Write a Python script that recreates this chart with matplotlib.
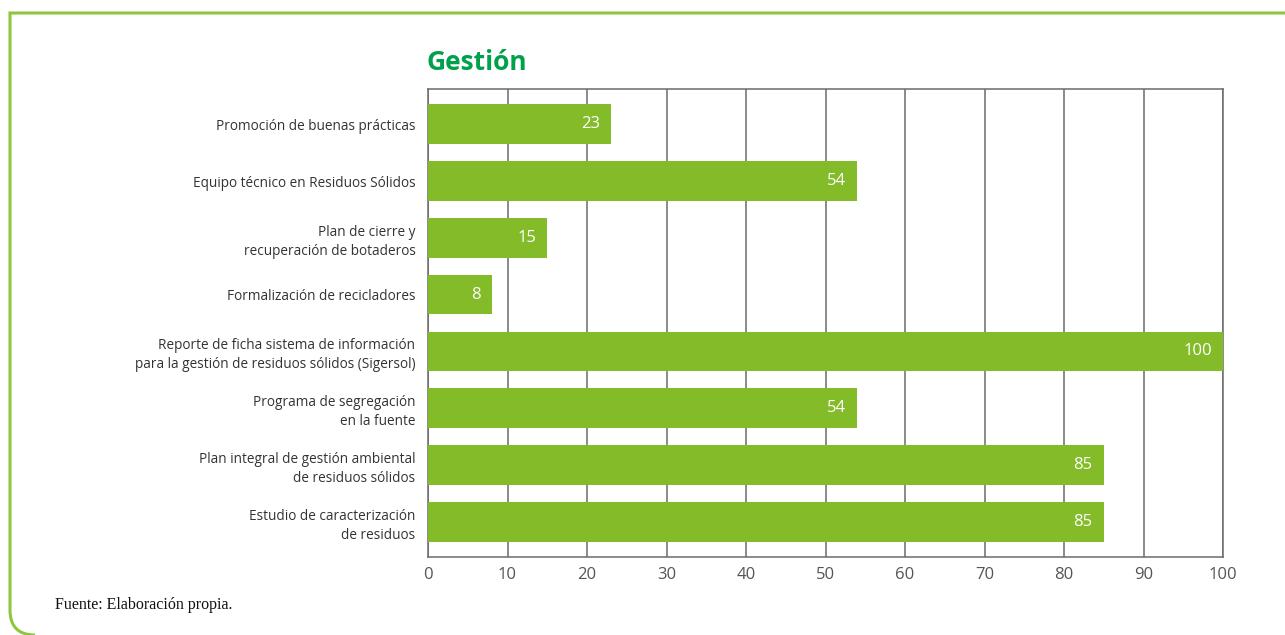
import matplotlib
matplotlib.use("Agg")
import matplotlib.pyplot as plt
from matplotlib.path import Path
from matplotlib.patches import PathPatch

categories = [
    "Promoción de buenas prácticas",
    "Equipo técnico en Residuos Sólidos",
    "Plan de cierre y\nrecuperación de botaderos",
    "Formalización de recicladores",
    "Reporte de ficha sistema de información\npara la gestión de residuos sólidos (Sigersol)",
    "Programa de segregación\nen la fuente",
    "Plan integral de gestión ambiental\nde residuos sólidos",
    "Estudio de caracterización\nde residuos",
]
values = [23, 54, 15, 8, 100, 54, 85, 85]
xticks = list(range(0, 101, 10))

BAR = "#84BB29"
TITLE = "#00A14B"
FRAME = "#8DC63F"
GRID = "#6b6b6b"
TXT = "#333333"

plt.rcParams["font.family"] = ["Open Sans", "DejaVu Sans"]

W, H = 1285, 635
fig = plt.figure(figsize=(W / 100, H / 100), dpi=100)
ax = fig.add_axes([428 / W, 1 - 557 / H, 795 / W, 468 / H])

y = list(range(len(categories)))
ax.barh(y, values, height=0.7, color=BAR, zorder=3)
for yi, v in zip(y, values):
    ax.text(v - 1.4, yi, str(v), color="white", ha="right", va="center",
            fontsize=12, zorder=4)

ax.set_xlim(0, 100)
ax.set_ylim(7.62, -0.62)
ax.set_xticks(xticks)
ax.set_yticks(y)
ax.set_yticklabels(categories, fontsize=9.8, color=TXT, linespacing=1.35)
ax.tick_params(axis="both", length=0)
ax.tick_params(axis="x", labelsize=12, pad=7, labelcolor="#555555")
ax.tick_params(axis="y", pad=9)
ax.grid(axis="x", color=GRID, lw=1.1, zorder=0)
for s in ax.spines.values():
    s.set_color(GRID)
    s.set_linewidth(1.1)

fig.text(427 / W, 1 - 62 / H, "Gestión", color=TITLE, fontsize=19,
         fontweight="bold", ha="left", va="center")
fig.text(55 / W, 1 - 605 / H, "Fuente: Elaboración propia.", fontsize=11.5,
         family="Liberation Serif", color="#111111", ha="left", va="center")

# green frame with rounded bottom-left corner
def fx(px):
    return px / W

def fy(py):
    return 1 - py / H

verts = [(fx(W + 5), fy(13)), (fx(10), fy(13)), (fx(10), fy(610)),
         (fx(10), fy(635)), (fx(35), fy(635))]
codes = [Path.MOVETO, Path.LINETO, Path.LINETO, Path.CURVE3, Path.CURVE3]
fig.patches.append(PathPatch(Path(verts, codes), fill=False, edgecolor=FRAME,
                             lw=2.2, transform=fig.transFigure))

fig.savefig("out.png", dpi=100)
